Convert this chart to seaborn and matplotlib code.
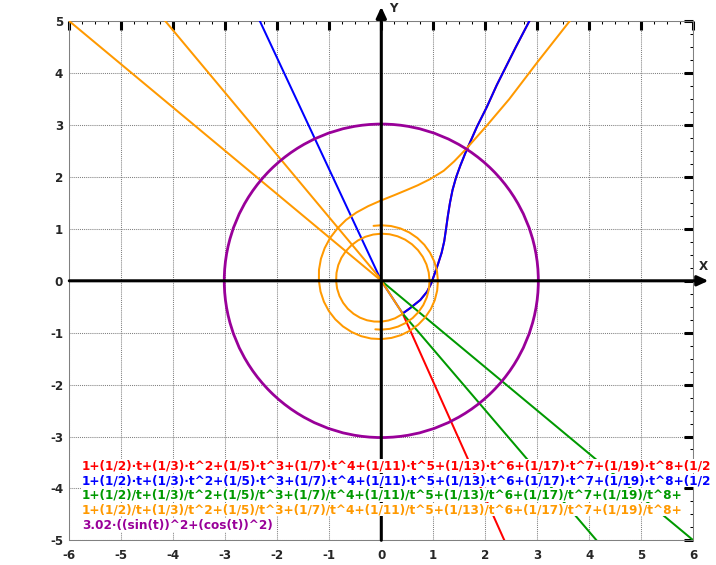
import numpy as np
import pandas as pd
import seaborn as sns
import matplotlib.pyplot as plt
from matplotlib.patches import Circle
from matplotlib.ticker import MultipleLocator

# colours of the five formulas
RED, BLUE, GREEN, ORANGE, PURPLE = "#ff0000", "#0000ff", "#009900", "#ff9900", "#990099"

# formula labels, as far as the picture shows them
formulas = [
    "1+(1/2)·t+(1/3)·t^2+(1/5)·t^3+(1/7)·t^4+(1/11)·t^5+(1/13)·t^6+(1/17)·t^7+(1/19)·t^8+(1/2",
    "1+(1/2)·t+(1/3)·t^2+(1/5)·t^3+(1/7)·t^4+(1/11)·t^5+(1/13)·t^6+(1/17)·t^7+(1/19)·t^8+(1/2",
    "1+(1/2)/t+(1/3)/t^2+(1/5)/t^3+(1/7)/t^4+(1/11)/t^5+(1/13)/t^6+(1/17)/t^7+(1/19)/t^8+",
    "1+(1/2)/t+(1/3)/t^2+(1/5)/t^3+(1/7)/t^4+(1/11)/t^5+(1/13)/t^6+(1/17)/t^7+(1/19)/t^8+",
    "3.02·((sin(t))^2+(cos(t))^2)",
]
formula_colors = [RED, BLUE, GREEN, ORANGE, PURPLE]

# blue curve (x, y)
blue_x = [-2.52, 0.0, 0.41, 0.55, 0.75, 0.88, 0.96, 1.02, 1.09, 1.16, 1.21, 1.245,
          1.28, 1.32, 1.37, 1.44, 1.52, 1.62, 1.84, 2.03, 2.22, 2.59, 2.85, 2.97]
blue_y = [5.40, 0.0, -0.63, -0.53, -0.37, -0.21, -0.05, 0.12, 0.32, 0.54, 0.76, 1.00,
          1.25, 1.50, 1.75, 2.00, 2.22, 2.47, 2.97, 3.35, 3.77, 4.51, 5.01, 5.27]

# red curve: a straight run to the bottom, then the same path as blue
red_x = [2.59, 0.41, 0.55, 0.75, 0.88, 0.96, 1.02, 1.09, 1.16, 1.21, 1.245,
         1.28, 1.32, 1.37, 1.44, 1.52, 1.62, 1.84, 2.03, 2.22, 2.59, 2.85, 2.97]
red_y = [-5.50, -0.63, -0.53, -0.37, -0.21, -0.05, 0.12, 0.32, 0.54, 0.76, 1.00,
         1.25, 1.50, 1.75, 2.00, 2.22, 2.47, 2.97, 3.35, 3.77, 4.51, 5.01, 5.27]

# green: two straight runs to the lower right
green_a_x, green_a_y = [0.41, 4.48], [-0.63, -5.40]
green_b_x, green_b_y = [0.0, 6.48], [0.0, -5.40]

# orange: inner turn of the spiral as (angle in degrees, radius), ends at the origin
inner_ang = [263, 270, 280, 290, 300, 310, 320, 330, 340, 350, 360, 370, 380, 390,
             400, 410, 420, 430, 440, 450, 460, 470, 480, 490, 500, 510, 520, 530,
             540, 550, 560, 570, 580, 590, 600, 610, 620, 630, 640, 650, 663, 663]
inner_r = [0.942, 0.941, 0.940, 0.939, 0.938, 0.937, 0.935, 0.933, 0.931, 0.930,
           0.928, 0.926, 0.924, 0.922, 0.920, 0.918, 0.916, 0.913, 0.911, 0.908,
           0.905, 0.902, 0.898, 0.894, 0.890, 0.886, 0.881, 0.875, 0.869, 0.863,
           0.856, 0.848, 0.840, 0.830, 0.820, 0.809, 0.797, 0.787, 0.777, 0.769,
           0.760, 0.0]
# orange: branch coming in from the upper right (x, y)
branch_x = [4.00, 3.62, 3.00, 2.46, 2.02, 1.64, 1.40, 1.20, 0.94, 0.70, 0.49, 0.25]
branch_y = [5.48, 5.00, 4.21, 3.50, 2.98, 2.55, 2.30, 2.12, 1.96, 1.84, 1.75, 1.65]
# orange: outer turn (angle in degrees, radius)
outer_ang = [90, 100, 110, 120, 130, 140, 150, 160, 170, 180, 190, 200, 210, 220,
             230, 240, 250, 260, 270, 280, 290, 300, 310, 320, 330, 340, 350, 360,
             370, 380, 390, 400, 410, 420, 430, 440, 450, 458]
outer_r = [1.55, 1.46, 1.40, 1.355, 1.315, 1.285, 1.258, 1.236, 1.217, 1.20, 1.187,
           1.175, 1.165, 1.155, 1.147, 1.14, 1.135, 1.13, 1.123, 1.118, 1.113, 1.108,
           1.104, 1.10, 1.097, 1.094, 1.091, 1.089, 1.087, 1.085, 1.082, 1.080,
           1.078, 1.076, 1.074, 1.072, 1.070, 1.069]
# orange: two straight runs to the upper left
orange_a_x, orange_a_y = [0.0, -4.40], [0.02, 5.30]
orange_b_x, orange_b_y = [0.0, -6.50], [0.0, 5.42]

# purple circle radius
purple_r = 3.02

x_ticks = list(range(-6, 7))
y_ticks = list(range(-5, 6))


def polar(ang, r):
    a = np.deg2rad(ang)
    return np.array(r) * np.cos(a), np.array(r) * np.sin(a)


def draw(ax, pieces, color, lw=1.45, z=3):
    df = pd.concat([pd.DataFrame({"x": px, "y": py, "seg": i})
                    for i, (px, py) in enumerate(pieces)], ignore_index=True)
    sns.lineplot(data=df, x="x", y="y", units="seg", estimator=None, sort=False,
                 color=color, lw=lw, ax=ax, legend=False, zorder=z)


sns.set_style("white")
plt.rcParams["font.family"] = ["DejaVu Sans"]
plt.rcParams["font.weight"] = "bold"

fig = plt.figure(figsize=(7.16, 5.65), dpi=100)
ax = fig.add_axes([69.3 / 716, 1 - 540.3 / 565, 624 / 716, 519 / 565])

ox, oy = polar(outer_ang, outer_r)
outer_x = np.concatenate([branch_x, ox])
outer_y = np.concatenate([branch_y, oy])

draw(ax, [(red_x, red_y)], RED, z=3)
draw(ax, [(blue_x, blue_y)], BLUE, z=4)
draw(ax, [(green_a_x, green_a_y), (green_b_x, green_b_y)], GREEN, z=5)
draw(ax, [polar(inner_ang, inner_r), (outer_x, outer_y),
          (orange_a_x, orange_a_y), (orange_b_x, orange_b_y)], ORANGE, z=6)
ax.add_patch(Circle((0, 0), purple_r, fill=False, ec=PURPLE, lw=2.0, zorder=7))

ax.set(xlabel="", ylabel="")
ax.set_xlim(-6, 6)
ax.set_ylim(-5, 5)
ax.set_xticks(x_ticks)
ax.set_yticks(y_ticks)
ax.set_xticklabels([str(v) for v in x_ticks])
ax.set_yticklabels([str(v) for v in y_ticks])
ax.xaxis.set_minor_locator(MultipleLocator(0.25))
ax.yaxis.set_minor_locator(MultipleLocator(0.25))
ax.tick_params(which="major", direction="in", length=6.5, width=2.2, color="black",
               top=True, right=True, labelsize=8.6)
ax.tick_params(which="minor", direction="in", length=2.2, width=0.75, color="black",
               top=True, right=True)
ax.tick_params(axis="x", which="major", pad=6.0)
ax.tick_params(axis="y", which="major", pad=4.5)

# dotted grey grid
ax.grid(True, which="major", color="#808080", ls=(0, (1, 1)), lw=0.75)
ax.set_axisbelow(True)
for s in ax.spines.values():
    s.set_color("#808080")
    s.set_linestyle((0, (1, 1)))
    s.set_linewidth(0.75)

# coordinate axes with arrow heads
arrow = dict(arrowstyle="-|>,head_length=0.65,head_width=0.3", lw=2.2, color="black",
             shrinkA=0, shrinkB=0, mutation_scale=10)
ax.annotate("", xy=(6.29, 0), xytext=(-6, 0), arrowprops=arrow,
            annotation_clip=False, zorder=9)
ax.annotate("", xy=(0, 5.28), xytext=(0, -5), arrowprops=arrow,
            annotation_clip=False, zorder=9)
ax.text(6.19, 0.285, "X", ha="center", va="center", fontsize=8.6,
        fontweight="bold", clip_on=False)
ax.text(0.23, 5.25, "Y", ha="center", va="center", fontsize=8.6,
        fontweight="bold", clip_on=False)

# formula labels
baselines = [469.8, 484.1, 498.2, 513.1, 528.5]
for txt, col, b in zip(formulas, formula_colors, baselines):
    fig.text(82 / 716, 1 - b / 565, txt, color=col, fontsize=8.7, fontweight="bold",
             ha="left", va="baseline",
             bbox=dict(facecolor="white", edgecolor="none", pad=0.3))

fig.savefig("out.png", dpi=100)
